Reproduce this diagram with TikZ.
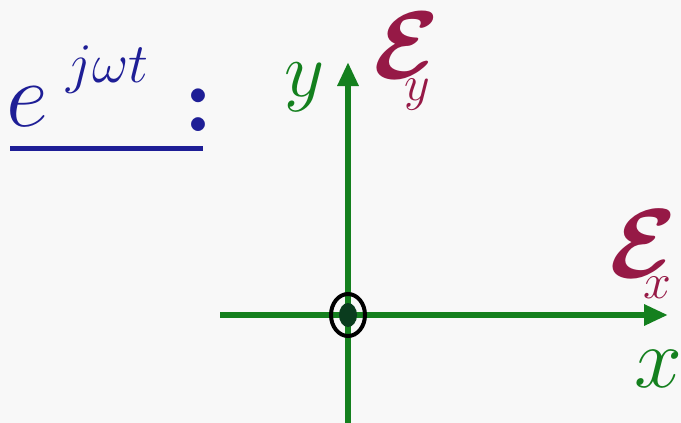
\RequirePackage{fix-cm}
\documentclass[tikz,border=0pt]{standalone}
\usepackage{bm}
\usetikzlibrary{arrows.meta}
\definecolor{axisgreen}{RGB}{20,128,30}
\definecolor{dotgreen}{RGB}{10,60,30}
\definecolor{maroon}{RGB}{150,25,70}
\definecolor{eblue}{RGB}{30,30,150}
\definecolor{bg}{RGB}{248,248,248}
\newcommand{\fsz}[1]{\fontsize{#1}{#1}\selectfont}
\tikzset{
  axis/.style={line width=6pt, draw=axisgreen, -{Triangle[length=24pt,width=20pt]}},
  axlabel/.style={text=axisgreen, inner sep=0pt, anchor=base west},
  fieldE/.style={text=maroon, inner sep=0pt, anchor=base west},
  titletext/.style={text=eblue, inner sep=0pt, anchor=base west},
}
\begin{document}
\begin{tikzpicture}[x=1pt,y=-1pt]
\fill[bg] (0,0) rectangle (681,423);
\useasboundingbox (0,0) rectangle (681,423);
% title
\node[titletext, font=\fsz{92}] (e) at (6,126) {$e$};
\node[titletext, font=\fsz{56}] (sup) at (66,82) {$j\omega t$};
\node[titletext, anchor=base, font=\fsz{96}\bfseries] (colon) at (199,131) {:};
\coordinate (ul1) at (10,148);
\coordinate (ul2) at (203,148);
\draw[eblue, line width=5pt] (ul1) -- (ul2);
% axes
\coordinate (o) at (348,315);
\coordinate (xl) at (220,315);
\coordinate (xr) at (668,315);
\coordinate (yb) at (348,423);
\coordinate (yt) at (348,62);
\draw[axis] (xl) -- (xr);
\draw[axis] (yb) -- (yt);
% out-of-plane symbol
\draw[black, line width=4pt] (o) ellipse [x radius=17, y radius=21];
\fill[dotgreen] (o) ellipse [x radius=9, y radius=12];
% labels
\node[axlabel, font=\fsz{78}] (ylab) at (284,96) {$y$};
\node[axlabel, font=\fsz{86}] (xlab) at (634,387) {$x$};
\node[fieldE, font=\fsz{96}] (Ey) at (373,78) {$\bm{\mathcal{E}}$};
\node[fieldE, font=\fsz{50}] (Eys) at (404,100) {$y$};
\node[fieldE, font=\fsz{98}] (Ex) at (609,277) {$\bm{\mathcal{E}}$};
\node[fieldE, font=\fsz{50}] (Exs) at (643,298) {$x$};
\end{tikzpicture}
\end{document}
